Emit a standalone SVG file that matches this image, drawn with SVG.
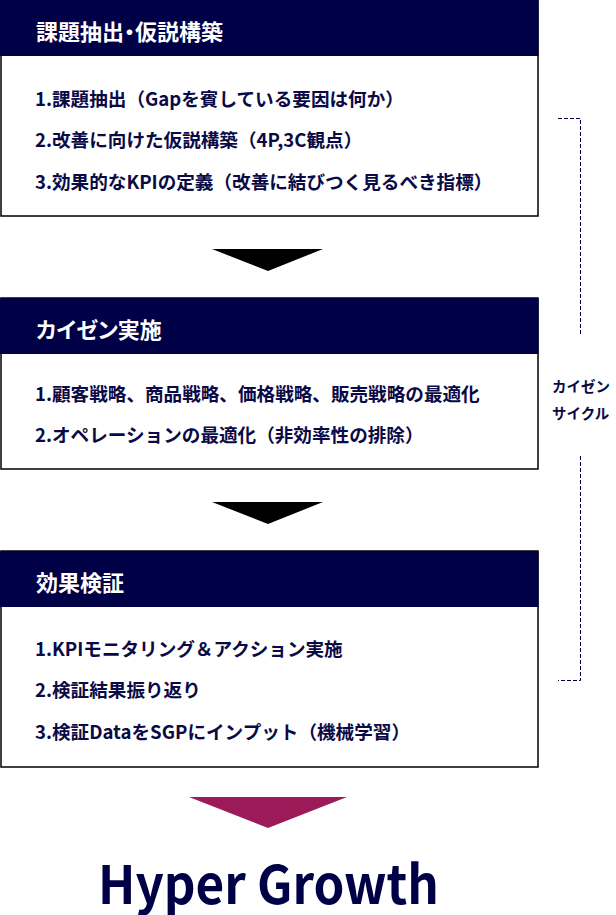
<svg xmlns="http://www.w3.org/2000/svg" width="616" height="915" viewBox="0 0 616 915">
<style>
.box{fill:#fff;stroke:#000;stroke-width:1.5}
.hdr{fill:#000046}
.ht{font-family:"Noto Sans CJK JP","Noto Sans",sans-serif;font-size:22px;font-weight:700;fill:#fff;dominant-baseline:central;font-feature-settings:"palt"}
.bt{font-family:"Noto Sans CJK JP","Noto Sans",sans-serif;font-size:18.6px;font-weight:700;fill:#0a0a46;dominant-baseline:central}
.st{font-family:"Noto Sans CJK JP","Noto Sans",sans-serif;font-size:14.5px;font-weight:700;fill:#0a0a46;dominant-baseline:central}
.dash{fill:none;stroke:#000046;stroke-width:1;stroke-dasharray:4 2}
.big{font-family:"Noto Sans CJK JP","Noto Sans",sans-serif;font-size:53px;font-weight:700;fill:#000046}
</style>
<rect width="616" height="915" fill="#fff"/>
<g id="node1">
<rect class="box" x="1" y="1" width="537" height="215"/>
<rect class="hdr" x="0" y="0" width="538.5" height="56"/>
<text class="ht" x="36" y="30">課題抽出・仮説構築</text>
<text class="bt" x="35" y="97">1.課題抽出（Gapを賓している要因は何か）</text>
<text class="bt" x="35" y="138">2.改善に向けた仮説構築（4P,3C観点）</text>
<text class="bt" x="35" y="180">3.効果的なKPIの定義（改善に結びつく見るべき指標）</text>
</g>
<g id="node2">
<rect class="box" x="1" y="298" width="537" height="171"/>
<rect class="hdr" x="0" y="298" width="538.5" height="56"/>
<text class="ht" x="36" y="328">カイゼン実施</text>
<text class="bt" x="35" y="392">1.顧客戦略、商品戦略、価格戦略、販売戦略の最適化</text>
<text class="bt" x="35" y="433">2.オペレーションの最適化（非効率性の排除）</text>
</g>
<g id="node3">
<rect class="box" x="1" y="551" width="537" height="216"/>
<rect class="hdr" x="0" y="551" width="538.5" height="56"/>
<text class="ht" x="36" y="581">効果検証</text>
<text class="bt" x="35" y="647">1.KPIモニタリング＆アクション実施</text>
<text class="bt" x="35" y="688">2.検証結果振り返り</text>
<text class="bt" x="35" y="730">3.検証DataをSGPにインプット（機械学習）</text>
</g>
<g id="cycle">
<text class="st" x="552" y="385">カイゼン</text>
<text class="st" x="552" y="412">サイクル</text>
</g>
<g id="result">
<text class="big" x="98" y="904" textLength="341" lengthAdjust="spacingAndGlyphs">Hyper Growth</text>
</g>
<g id="connectors">
<polygon points="212,249 323,249 268,271" fill="#000"/>
<polygon points="212,502 323,502 268,524" fill="#000"/>
<polygon points="189,797 347,797 268,828" fill="#9b1a57"/>
<path class="dash" d="M558,118.5 H580.5 V334"/>
<path class="dash" d="M580.5,456 V680.5 H558"/>
</g>
</svg>
